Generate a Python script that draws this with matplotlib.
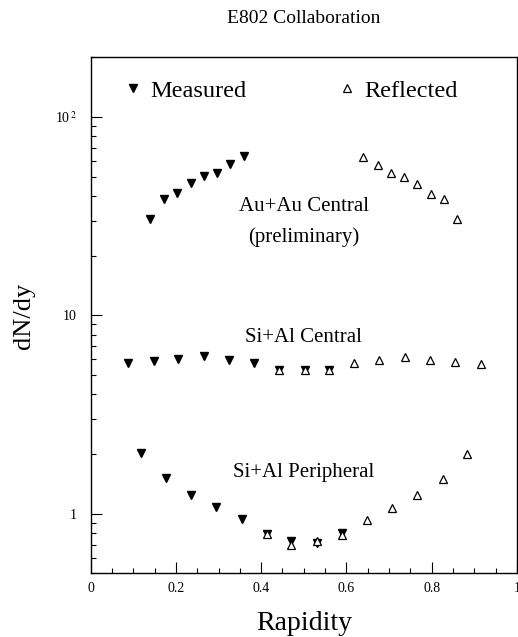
import numpy as np
import matplotlib
matplotlib.use("Agg")
import matplotlib.pyplot as plt
from matplotlib.lines import Line2D
from matplotlib.ticker import FixedLocator, MultipleLocator, FuncFormatter, LogLocator, NullFormatter

plt.rcParams["font.family"] = ["Liberation Serif", "DejaVu Serif"]
plt.rcParams["mathtext.fontset"] = "stix"

# Au+Au central (preliminary)
auau_meas_x = [0.140, 0.173, 0.203, 0.235, 0.266, 0.297, 0.328, 0.359]
auau_meas_y = [30.7, 38.4, 41.2, 46.6, 50.3, 52.4, 57.7, 63.5]
auau_refl_x = [0.640, 0.673, 0.704, 0.736, 0.766, 0.798, 0.829, 0.860]
auau_refl_y = [63.1, 57.2, 52.4, 50.0, 46.1, 41.0, 38.4, 30.7]

# Si+Al central
sical_meas_x = [0.088, 0.148, 0.206, 0.266, 0.325, 0.383, 0.442, 0.502, 0.560]
sical_meas_y = [5.76, 5.87, 6.03, 6.22, 5.98, 5.76, 5.30, 5.33, 5.33]
sical_refl_x = [0.442, 0.502, 0.560, 0.618, 0.677, 0.737, 0.796, 0.855, 0.915]
sical_refl_y = [5.28, 5.33, 5.30, 5.76, 5.94, 6.17, 5.98, 5.83, 5.71]

# Si+Al peripheral
siper_meas_x = [0.117, 0.177, 0.235, 0.295, 0.354, 0.413, 0.471, 0.531, 0.590]
siper_meas_y = [2.02, 1.51, 1.247, 1.076, 0.940, 0.793, 0.733, 0.711, 0.800]
siper_refl_x = [0.413, 0.471, 0.531, 0.590, 0.649, 0.708, 0.766, 0.826, 0.883]
siper_refl_y = [0.793, 0.692, 0.731, 0.784, 0.933, 1.068, 1.237, 1.50, 2.01]

rel_err = 0.03

fig = plt.figure(figsize=(5.18, 6.37), dpi=100)
ax = fig.add_axes([0.175, 0.0997, 0.823, 0.8103])

meas_kw = dict(fmt="v", color="black", ms=6, elinewidth=1, capsize=0)
refl_kw = dict(fmt="^", color="black", mfc="white", mec="black", mew=0.9,
               ms=6, elinewidth=1, capsize=0)

for xs, ys in [(auau_meas_x, auau_meas_y), (sical_meas_x, sical_meas_y),
               (siper_meas_x, siper_meas_y)]:
    ys = np.array(ys)
    ax.errorbar(xs, ys, yerr=ys * rel_err, **meas_kw)
for xs, ys in [(auau_refl_x, auau_refl_y), (sical_refl_x, sical_refl_y),
               (siper_refl_x, siper_refl_y)]:
    ys = np.array(ys)
    ax.errorbar(xs, ys, yerr=ys * rel_err, **refl_kw)

ax.set_yscale("log")
ax.set_xlim(0, 1)
ax.set_ylim(0.5, 200)

ax.xaxis.set_major_locator(MultipleLocator(0.2))
ax.xaxis.set_minor_locator(MultipleLocator(0.05))
ax.xaxis.set_major_formatter(FuncFormatter(lambda v, p: "%g" % round(v, 2)))
ax.yaxis.set_major_locator(FixedLocator([1, 10, 100]))
ax.yaxis.set_minor_locator(LogLocator(base=10, subs=np.arange(2, 10)))
ax.yaxis.set_minor_formatter(NullFormatter())
ax.yaxis.set_major_formatter(FuncFormatter(
    lambda v, p: {1: "1", 10: "10", 100: r"10$^{\,2}$"}.get(int(round(v)), "")))

ax.tick_params(which="both", direction="in", top=False, right=False,
               labelsize=10, width=0.8)
ax.tick_params(axis="x", which="major", length=8, pad=6)
ax.tick_params(axis="y", which="major", length=8, pad=10)
ax.tick_params(which="minor", length=3.6)
for s in ax.spines.values():
    s.set_linewidth(1)

ax.set_xlabel("Rapidity", fontsize=20, labelpad=12)
ax.set_ylabel("dN/dy", fontsize=19, labelpad=14)
ax.set_title("E802 Collaboration", fontsize=14, pad=25)

ax.text(0.5, 0.711, "Au+Au Central", transform=ax.transAxes, ha="center",
        va="center", fontsize=15)
ax.text(0.5, 0.651, "(preliminary)", transform=ax.transAxes, ha="center",
        va="center", fontsize=15)
ax.text(0.5, 0.458, "Si+Al Central", transform=ax.transAxes, ha="center",
        va="center", fontsize=15)
ax.text(0.5, 0.195, "Si+Al Peripheral", transform=ax.transAxes, ha="center",
        va="center", fontsize=15)

h_meas = Line2D([], [], ls="none", marker="v", color="black", ms=6)
h_refl = Line2D([], [], ls="none", marker="^", mfc="white", mec="black",
                mew=0.9, ms=6)
leg1 = ax.legend([h_meas], ["Measured"], loc="center left",
                 bbox_to_anchor=(0.071, 0.935), frameon=False, fontsize=17.5,
                 handlelength=1.0, handletextpad=0.2, borderpad=0,
                 borderaxespad=0)
ax.add_artist(leg1)
ax.legend([h_refl], ["Reflected"], loc="center left",
          bbox_to_anchor=(0.573, 0.935), frameon=False, fontsize=17.5,
          handlelength=1.0, handletextpad=0.2, borderpad=0, borderaxespad=0)

fig.savefig("out.png", dpi=100)
